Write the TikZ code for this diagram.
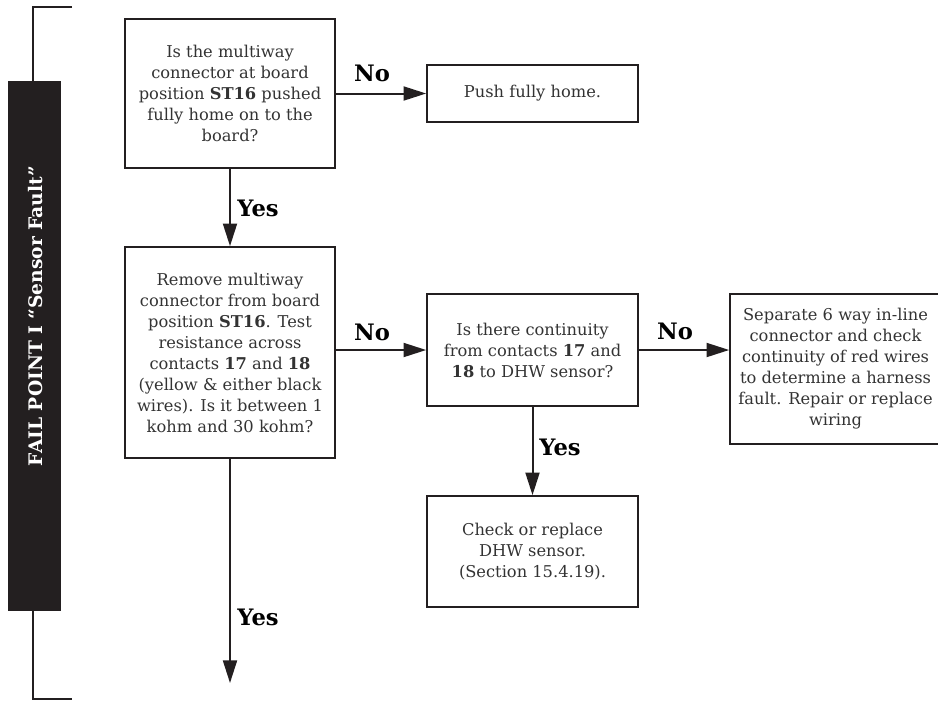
\documentclass[tikz,border=0pt]{standalone}
\usepackage{fontspec}
\setmainfont{DejaVu Serif}
\usepackage{xcolor}
\usetikzlibrary{arrows.meta}

\definecolor{inkblack}{HTML}{231F20}
\definecolor{textgrey}{HTML}{333333}

\begin{document}
\begin{tikzpicture}[x=0.75pt, y=-0.75pt,
    box/.style={draw=inkblack, line width=1.5pt, align=center, text=textgrey,
        minimum width=158pt, inner sep=0pt,
        font=\fontsize{12.2}{15.75}\selectfont},
    flow/.style={draw=inkblack, line width=1.5pt, -{Triangle[length=17pt,width=10.5pt]}},
    answer/.style={font=\fontsize{17}{17}\selectfont\bfseries, text=black}]

    \useasboundingbox (0,0) rectangle (938,701);

    % side bracket and title bar
    \draw[inkblack, line width=1.5pt] (72,7) -- (33,7) -- (33,699) -- (72,699);
    \node[fill=inkblack, minimum width=40pt, minimum height=397pt, inner sep=0pt] (bar) at (34.5,346) {};
    \node[rotate=90, text=white, font=\fontsize{14}{14}\selectfont\bfseries] (bartitle) at (35.5,316)
        {FAIL POINT I “Sensor Fault”};

    % boxes
    \node[box, minimum height=112pt] (q1) at (230,93.5)
        {Is the multiway\\connector at board\\position \textbf{ST16} pushed\\fully home on to the\\board?};
    \node[box, minimum height=43pt] (push) at (532.5,93.5) {Push fully home.};
    \node[box, minimum height=158pt] (q2) at (230,352.5)
        {Remove multiway\\connector from board\\position \textbf{ST16}. Test\\resistance across\\contacts \textbf{17} and \textbf{18}\\(yellow \& either black\\wires). Is it between 1\\kohm and 30 kohm?};
    \node[box, minimum height=84pt] (q3) at (532.5,350)
        {Is there continuity\\from contacts \textbf{17} and\\\textbf{18} to DHW sensor?};
    \node[box, minimum height=112pt] (fix) at (835.5,369)
        {Separate 6 way in-line\\connector and check\\continuity of red wires\\to determine a harness\\fault. Repair or replace\\wiring};
    \node[box, minimum height=83pt] (sensor) at (532.5,551.5)
        {Check or replace\\DHW sensor.\\(Section 15.4.19).};
    \coordinate (out) at (230,683);

    % connectors
    \draw[flow] (q1) -- (push);
    \draw[flow] (q1) -- (q2);
    \draw[flow] (q2.east |- q3) -- (q3);
    \draw[flow] (q3) -- (q3 -| fix.west);
    \draw[flow] (q3) -- (sensor);
    \draw[flow] (q2) -- (out);

    % answers
    \node[answer] (no1) at (372,73) {No};
    \node[answer] (yes1) at (258,208) {Yes};
    \node[answer] (no2) at (372,332) {No};
    \node[answer] (no3) at (675,331) {No};
    \node[answer] (yes2) at (560,447) {Yes};
    \node[answer] (yes3) at (258,617) {Yes};
\end{tikzpicture}
\end{document}
